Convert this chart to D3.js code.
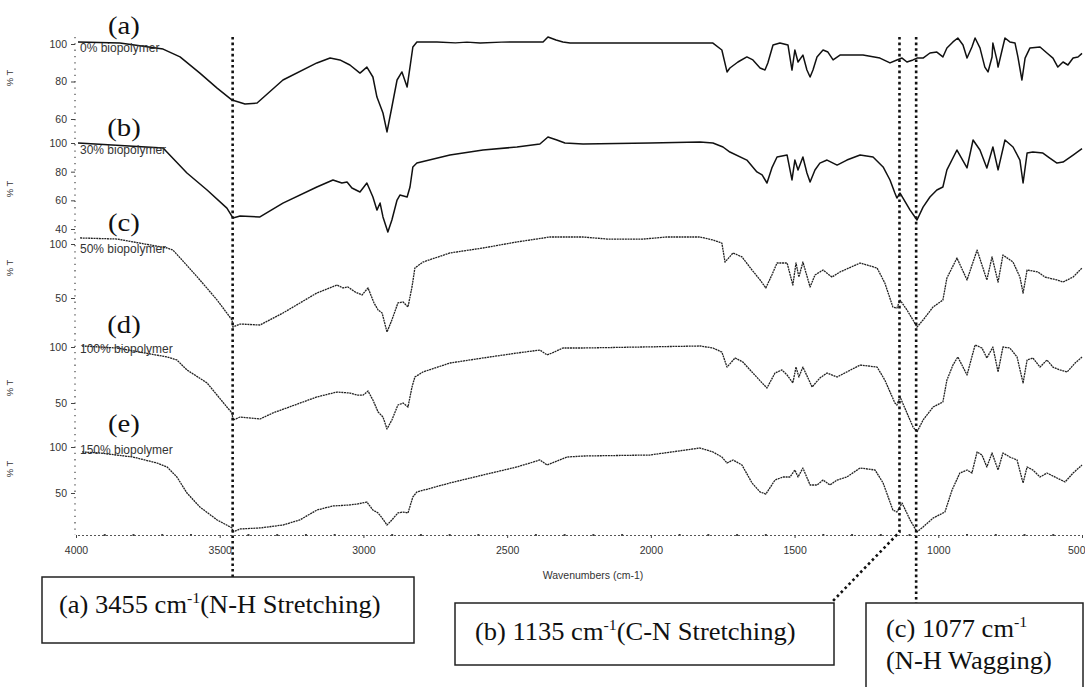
<!DOCTYPE html>
<html>
<head>
<meta charset="utf-8">
<script src="https://cdn.jsdelivr.net/npm/d3@7"></script>
<style>
  html, body { margin: 0; padding: 0; background: #fff; }
  svg { display: block; }
</style>
</head>
<body>
<svg id="chart" width="1085" height="687"></svg>
<script>
// FTIR spectra of the films, stacked panels (a)–(e); wavenumber in cm-1, transmittance in %T
const wavenumberTicks = [4000, 3500, 3000, 2500, 2000, 1500, 1000, 500];
const seriesNames = ["0% biopolymer", "30% biopolymer", "50% biopolymer", "100% biopolymer", "150% biopolymer"];
const panelLetters = ["(a)", "(b)", "(c)", "(d)", "(e)"];
const panelTicks = [[100, 80, 60], [100, 80, 60, 40], [100, 50], [100, 50], [100, 50]];
const peakWavenumbers = [3455, 1135, 1077];
const peakNotes = [
  ["(a) 3455 cm", "-1", "(N-H Stretching)"],
  ["(b) 1135 cm", "-1", "(C-N Stretching)"],
  ["(c) 1077 cm", "-1", ""]
];
const peakNoteExtra = "(N-H Wagging)";

const spectrum0 = [[3993,101.1],[3847,100.5],[3697,97.3],[3638,93.1],[3569,84.5],[3509,76.5],[3457,70.1],[3412,68.0],[3370,68.5],[3280,80.8],[3162,89.9],[3116,92.5],[3082,91.5],[3047,88.8],[3012,84.5],[2988,87.7],[2967,82.4],[2953,71.7],[2932,63.2],[2918,53.1],[2901,66.4],[2883,80.8],[2866,85.1],[2848,77.1],[2838,87.7],[2828,98.4],[2814,101.1],[2744,101.1],[2680,100.6],[2640,101.0],[2594,100.5],[2520,101.0],[2455,101.1],[2375,101.1],[2358,103.7],[2330,102.1],[2306,101.1],[2281,100.5],[2003,100.5],[1829,100.5],[1784,100.5],[1753,96.8],[1735,85.1],[1725,87.2],[1697,90.4],[1666,93.1],[1645,91.5],[1620,87.2],[1603,86.1],[1593,89.9],[1575,99.5],[1551,100.5],[1523,99.5],[1509,86.1],[1499,96.8],[1488,90.4],[1471,94.1],[1457,86.1],[1446,82.4],[1436,86.1],[1422,93.1],[1401,96.8],[1384,95.7],[1366,91.5],[1342,94.1],[1262,94.1],[1203,92.5],[1168,89.9],[1144,91.5],[1126,92.5],[1109,90.4],[1088,91.5],[1074,92.5],[1053,92.5],[1029,95.2],[1005,95.7],[984,93.1],[970,97.9],[949,101.1],[932,103.2],[914,99.5],[900,92.5],[883,98.4],[872,103.2],[855,97.9],[838,87.7],[827,85.1],[813,93.1],[810,100.5],[796,91.5],[792,87.7],[778,96.8],[768,103.2],[751,101.1],[733,100.5],[723,93.1],[709,80.8],[698,92.5],[681,97.9],[646,98.4],[622,95.2],[601,92.5],[584,87.7],[566,90.4],[549,88.8],[531,92.5],[514,93.1],[500,95.0]];

const spectrum30 = [[3993,100],[3697,96.5],[3614,79.1],[3544,67.2],[3475,54.6],[3454,47.7],[3429,49.1],[3360,48.4],[3280,58.1],[3162,69.3],[3106,74.2],[3075,72.1],[3057,72.8],[3040,68.6],[3012,65.8],[2988,72.1],[2967,62.3],[2953,53.2],[2942,58.1],[2932,48.4],[2915,37.9],[2901,46.3],[2883,60.2],[2873,63.7],[2848,62.3],[2838,69.3],[2828,83.3],[2814,86.0],[2699,91.6],[2584,95.1],[2466,97.2],[2386,99.3],[2358,104.2],[2327,102.1],[2299,100],[2236,99.3],[2003,100],[1829,100.7],[1784,100],[1749,97.2],[1725,93.7],[1666,88.1],[1631,79.8],[1613,77.7],[1596,72.1],[1579,82.6],[1561,90.2],[1526,91.6],[1509,74.2],[1499,88.1],[1488,81.2],[1471,90.2],[1457,79.1],[1446,72.8],[1429,81.2],[1412,86.0],[1387,88.1],[1352,84.6],[1318,88.1],[1272,91.6],[1227,90.2],[1192,83.3],[1168,74.2],[1151,65.1],[1144,61.6],[1133,65.1],[1098,53.2],[1074,46.3],[1053,55.3],[1029,62.3],[1005,67.2],[984,69.3],[970,81.2],[935,95.1],[900,82.6],[879,102.1],[855,95.1],[831,82.6],[810,97.2],[792,81.2],[768,102.1],[740,97.2],[716,88.1],[705,72.1],[691,93.0],[671,93.7],[636,93.0],[612,89.5],[587,86.0],[566,86.7],[531,91.6],[500,96.0]];

const spectrum50 = [[3986,105.6],[3857,104.6],[3683,96.3],[3663,94.4],[3631,85.2],[3569,66.7],[3509,48.1],[3457,29.6],[3454,23.1],[3429,25.9],[3360,25.0],[3280,36.1],[3162,54.6],[3092,62.0],[3071,59.3],[3054,60.2],[3029,55.6],[3005,52.8],[2984,59.3],[2963,45.4],[2949,38.9],[2935,36.1],[2918,18.5],[2901,29.6],[2880,45.4],[2862,46.3],[2845,41.7],[2831,60.2],[2821,77.8],[2793,83.3],[2699,91.7],[2584,96.3],[2466,101.9],[2351,106.5],[2236,106.5],[2153,104.6],[2027,104.6],[1944,106.5],[1829,106.5],[1784,103.7],[1753,100.9],[1742,83.3],[1714,91.7],[1683,88.0],[1648,75.9],[1620,66.7],[1600,59.3],[1579,71.3],[1561,82.4],[1526,82.4],[1506,62.0],[1495,82.4],[1485,69.4],[1471,83.3],[1446,60.2],[1429,71.3],[1401,75.9],[1370,69.4],[1342,74.1],[1272,82.4],[1213,77.8],[1186,63.9],[1158,41.7],[1144,40.7],[1133,48.1],[1109,38.9],[1088,29.6],[1074,23.1],[1053,29.6],[1018,41.7],[984,48.1],[970,68.5],[935,87.0],[900,66.7],[865,94.4],[831,66.7],[813,88.0],[792,64.8],[775,89.8],[740,83.3],[716,69.4],[705,54.6],[691,75.9],[653,74.1],[629,69.4],[587,66.7],[566,64.8],[531,69.4],[500,77.8]];

const spectrum100 = [[3979,100.9],[3857,99.1],[3683,91.1],[3649,88.4],[3614,79.5],[3544,67.9],[3475,46.4],[3457,41.1],[3454,34.8],[3429,37.5],[3360,35.7],[3315,41.1],[3162,55.4],[3092,59.8],[3047,58.9],[3022,57.1],[3001,57.1],[2984,60.7],[2967,52.7],[2949,42.0],[2932,37.5],[2918,26.8],[2901,34.8],[2880,48.2],[2862,50.0],[2845,46.4],[2831,64.3],[2821,73.2],[2793,77.7],[2699,85.7],[2584,90.2],[2466,94.6],[2386,97.3],[2361,92.9],[2344,94.6],[2306,99.1],[2236,99.1],[1829,100.9],[1784,99.1],[1753,95.5],[1735,82.1],[1707,90.2],[1680,86.6],[1645,76.8],[1613,67.9],[1596,63.4],[1568,76.8],[1544,79.5],[1526,75.0],[1506,67.9],[1495,82.1],[1485,73.2],[1471,82.1],[1439,64.3],[1412,72.3],[1387,76.8],[1352,73.2],[1272,83.9],[1213,82.1],[1186,70.5],[1151,50.0],[1144,48.2],[1133,55.4],[1109,41.1],[1088,28.6],[1074,24.1],[1053,34.8],[1018,46.4],[984,50.9],[970,70.5],[949,83.9],[932,91.1],[900,75.0],[872,101.8],[848,99.1],[831,90.2],[810,100],[792,77.7],[775,100],[751,99.1],[726,91.1],[705,67.9],[691,88.4],[671,90.2],[646,82.1],[622,88.4],[601,82.1],[577,79.5],[552,77.7],[524,85.7],[500,91.1]];

const spectrum150 = [[3979,94.6],[3917,93.5],[3802,89.1],[3718,82.6],[3683,78.3],[3649,67.4],[3614,50.0],[3569,34.8],[3509,20.7],[3457,12.0],[3454,7.6],[3429,10.9],[3360,12.0],[3280,15.2],[3221,20.7],[3162,31.5],[3106,35.9],[3047,37.0],[3022,38.0],[2988,40.2],[2967,31.5],[2949,28.3],[2935,22.8],[2918,15.2],[2901,20.7],[2880,28.3],[2862,29.3],[2845,28.3],[2828,45.7],[2814,51.1],[2699,60.9],[2584,69.6],[2466,78.3],[2386,85.9],[2361,80.4],[2344,82.6],[2292,89.1],[2236,90.2],[2003,91.3],[1829,98.9],[1784,94.6],[1753,89.1],[1735,82.6],[1714,85.9],[1683,80.4],[1648,60.9],[1620,51.1],[1600,48.9],[1568,64.1],[1540,67.4],[1516,67.4],[1499,75.0],[1488,67.4],[1471,77.2],[1446,58.7],[1422,58.7],[1401,64.1],[1377,58.7],[1352,64.1],[1318,67.4],[1272,77.2],[1220,75.0],[1192,60.9],[1158,31.5],[1144,29.3],[1126,39.1],[1098,20.7],[1074,7.6],[1053,13.0],[1018,22.8],[977,29.3],[952,53.3],[925,71.7],[900,75.0],[883,71.7],[865,94.6],[848,91.3],[831,78.3],[813,93.5],[792,75.0],[775,93.5],[751,89.1],[726,85.9],[705,60.9],[691,78.3],[671,75.0],[646,67.4],[622,71.7],[587,66.3],[559,62.0],[531,71.7],[500,80.4]];

const spectra = [spectrum0, spectrum30, spectrum50, spectrum100, spectrum150];

// ---------- layout ----------
const layout = {
  axisX: 76, axisRight: 1082, axisY: 535, topY: 37,
  panels: [
    { domain: [100, 60], range: [44, 119],  letterY: 34,  nameY: 52,  titleY: 78 },
    { domain: [100, 40], range: [143, 229], letterY: 136, nameY: 154, titleY: 189 },
    { domain: [100, 50], range: [244, 298], letterY: 231, nameY: 253, titleY: 268 },
    { domain: [100, 50], range: [347, 403], letterY: 333, nameY: 353, titleY: 388 },
    { domain: [100, 50], range: [447, 493], letterY: 432, nameY: 454, titleY: 469 }
  ]
};

const svg = d3.select("#chart");
svg.append("rect").attr("width", 1085).attr("height", 687).attr("fill", "#fff");

const x = d3.scaleLinear().domain([4000, 500]).range([layout.axisX, layout.axisRight]);

const sansFont = "'Liberation Sans', Arial, sans-serif";
const serifFont = "'Liberation Serif', 'Times New Roman', serif";

// ---------- y axes (one per panel, sharing a dotted spine) ----------
svg.append("line")
  .attr("x1", layout.axisX - 1).attr("x2", layout.axisX - 1)
  .attr("y1", layout.topY).attr("y2", layout.axisY)
  .attr("stroke", "#444").attr("stroke-width", 1.2)
  .attr("stroke-dasharray", "1.3,5");

layout.panels.forEach((p, i) => {
  const y = d3.scaleLinear().domain(p.domain).range(p.range);
  const g = svg.append("g").attr("transform", `translate(${layout.axisX - 1},0)`);
  g.call(d3.axisLeft(y).tickValues(panelTicks[i]).tickSize(4).tickPadding(4));
  g.select(".domain").remove();
  g.selectAll(".tick line").attr("stroke", "#444").attr("stroke-width", 1);
  g.selectAll(".tick text")
    .attr("font-family", sansFont).attr("font-size", 10.5).attr("fill", "#333");

  svg.append("text")
    .attr("transform", `translate(13,${p.titleY}) rotate(-90)`)
    .attr("text-anchor", "middle")
    .attr("font-family", sansFont).attr("font-size", 9.5).attr("fill", "#333")
    .text("% T");

  // spectrum trace
  const line = d3.line().x(d => x(d[0])).y(d => y(d[1]));
  const dotted = i >= 2;
  svg.append("path")
    .datum(spectra[i])
    .attr("d", line)
    .attr("fill", "none")
    .attr("stroke", dotted ? "#222" : "#111")
    .attr("stroke-width", dotted ? 1.3 : 1.5)
    .attr("stroke-dasharray", dotted ? "2,0.7" : null)
    .attr("stroke-linejoin", "round");

  // sample name
  svg.append("text")
    .attr("x", 80).attr("y", p.nameY)
    .attr("font-family", sansFont).attr("font-size", 12).attr("fill", "#333")
    .text(seriesNames[i]);

  // panel letter
  svg.append("text")
    .attr("transform", `translate(124,${p.letterY}) scale(1.15,1)`)
    .attr("text-anchor", "middle")
    .attr("font-family", serifFont).attr("font-size", 25).attr("fill", "#111")
    .text(panelLetters[i]);
});

// ---------- x axis ----------
const xg = svg.append("g").attr("transform", `translate(0,${layout.axisY})`);
xg.call(d3.axisBottom(x).tickValues(wavenumberTicks).tickSize(3).tickPadding(9).tickFormat(d3.format("d")));
xg.select(".domain").attr("stroke", "#555").attr("stroke-width", 1).attr("stroke-dasharray", "2,2");
xg.selectAll(".tick line").attr("stroke", "#444");
xg.selectAll(".tick text").attr("font-family", sansFont).attr("font-size", 10.5).attr("fill", "#333");
// the last label sits at the right edge of the frame
xg.selectAll(".tick text").filter(d => d === 500).attr("text-anchor", "end").attr("x", 3);
xg.selectAll(".minor")
  .data(d3.range(600, 4000, 100).filter(v => v % 500 !== 0))
  .join("rect")
  .attr("x", d => x(d) - 1).attr("y", -1).attr("width", 2).attr("height", 2)
  .attr("fill", "#444");

svg.append("text")
  .attr("x", 593).attr("y", 579)
  .attr("text-anchor", "middle")
  .attr("font-family", sansFont).attr("font-size", 10.5).attr("fill", "#333")
  .text("Wavenumbers (cm-1)");

// ---------- peak assignment markers ----------
const markStyle = sel => sel.attr("fill", "none").attr("stroke", "#111")
  .attr("stroke-width", 2.6).attr("stroke-dasharray", "2.6,3");

const boxes = [
  { x: 42, y: 577, w: 372, h: 66, tx: 59, ty: 613 },
  { x: 455, y: 603, w: 379, h: 62, tx: 475, ty: 640 },
  { x: 866, y: 603, w: 217, h: 100, tx: 886, ty: 637 }
];

// 3455: straight down to box (a)
svg.append("path").call(markStyle)
  .attr("d", d3.line()([[x(peakWavenumbers[0]), layout.topY], [x(peakWavenumbers[0]), boxes[0].y]]));
// 1135: down to the axis, then across to the corner of box (b)
svg.append("path").call(markStyle)
  .attr("d", d3.line()([[x(peakWavenumbers[1]), layout.topY], [x(peakWavenumbers[1]), 532], [boxes[1].x + boxes[1].w - 3, boxes[1].y]]));
// 1077: straight down to box (c)
svg.append("path").call(markStyle)
  .attr("d", d3.line()([[x(peakWavenumbers[2]), layout.topY], [x(peakWavenumbers[2]), boxes[2].y]]));

const noteText = (tx, ty) => svg.append("text")
  .attr("transform", `translate(${tx},${ty}) scale(1.06,1)`)
  .attr("font-family", serifFont).attr("font-size", 25).attr("fill", "#111");

boxes.forEach((b, i) => {
  svg.append("rect")
    .attr("x", b.x).attr("y", b.y).attr("width", b.w).attr("height", b.h)
    .attr("fill", "#fff").attr("stroke", "#222").attr("stroke-width", 1.5);

  const t = noteText(b.tx, b.ty);
  t.append("tspan").text(peakNotes[i][0]);
  t.append("tspan").attr("font-size", 15).attr("dy", -10).text(peakNotes[i][1]);
  t.append("tspan").attr("dy", 10).text(peakNotes[i][2]);
});

noteText(886, 669).text(peakNoteExtra);
</script>
</body>
</html>
